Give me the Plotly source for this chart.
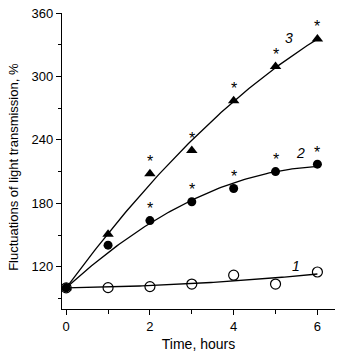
import numpy as np
import plotly.graph_objects as go

hours = [0, 1, 2, 3, 4, 5, 6]
curve1 = [100, 100.2, 101.2, 103.6, 112, 103.6, 115]
curve2 = [100, 140.4, 163.6, 181.5, 194, 210, 217]
curve3 = [100, 150.6, 208, 230, 277, 309.5, 335.5]
star2 = [False, False, True, True, True, True, True]
star3 = [False, False, True, True, True, True, True]
x_ticks = [0, 2, 4, 6]
y_ticks = [120, 180, 240, 300, 360]
labels = [("1", 5.5, 121), ("2", 5.6, 228), ("3", 5.32, 336)]

FONT = "Liberation Sans, Arial, sans-serif"
fig = go.Figure()

xs = np.linspace(0, 6, 100)
w = [20, 1, 1, 1, 1, 1, 1]
for ys in (curve1, curve2, curve3):
    c = np.polyfit(hours, ys, 2, w=w)
    fig.add_trace(go.Scatter(x=xs, y=np.polyval(c, xs), mode="lines",
                             line=dict(color="black", width=1.3), showlegend=False, hoverinfo="skip"))

fig.add_trace(go.Scatter(x=hours, y=curve1, mode="markers",
                         marker=dict(symbol="circle-open", size=10, color="black", line=dict(width=1.2)),
                         showlegend=False))
fig.add_trace(go.Scatter(x=hours, y=curve2, mode="markers",
                         marker=dict(symbol="circle", size=9, color="black"), showlegend=False))
fig.add_trace(go.Scatter(x=hours, y=curve3, mode="markers",
                         marker=dict(symbol="triangle-up", size=10, color="black"), showlegend=False))

ann = []
for ys, st in ((curve2, star2), (curve3, star3)):
    for xv, yv, s in zip(hours, ys, st):
        if s:
            ann.append(dict(x=xv, y=yv, text="*", showarrow=False, yshift=12,
                            font=dict(size=16, family=FONT, color="black")))
for t, xv, yv in labels:
    ann.append(dict(x=xv, y=yv, text="<i>" + t + "</i>", showarrow=False,
                    font=dict(size=14, family=FONT, color="black")))
ann.append(dict(xref="paper", yref="paper", x=-0.176, y=0.48, text="Fluctuations of light transmission, %",
                textangle=-90, showarrow=False, xanchor="center", yanchor="middle",
                font=dict(size=13, family=FONT, color="black")))

fig.update_layout(
    width=341, height=360,
    margin=dict(l=62, r=6, t=8, b=51),
    plot_bgcolor="white", paper_bgcolor="white",
    font=dict(family=FONT, size=13, color="black"),
    annotations=ann,
    xaxis=dict(range=[-0.1, 6.42], tickvals=x_ticks, showline=True, linecolor="black", linewidth=1.3,
               ticks="outside", ticklen=5, tickcolor="black", showgrid=False, zeroline=False,
               minor=dict(tickvals=[1, 3, 5], ticks="outside", ticklen=4, tickcolor="black"),
               title=dict(text="Time, hours", font=dict(size=14), standoff=6)),
    yaxis=dict(range=[80, 360], tickvals=y_ticks, showline=True, linecolor="black", linewidth=1.3,
               ticks="outside", ticklen=5, tickcolor="black", showgrid=False, zeroline=False,
               minor=dict(tickvals=[90, 150, 210, 270, 330], ticks="outside", ticklen=3, tickcolor="black")),
)
fig.write_html("out.html")
